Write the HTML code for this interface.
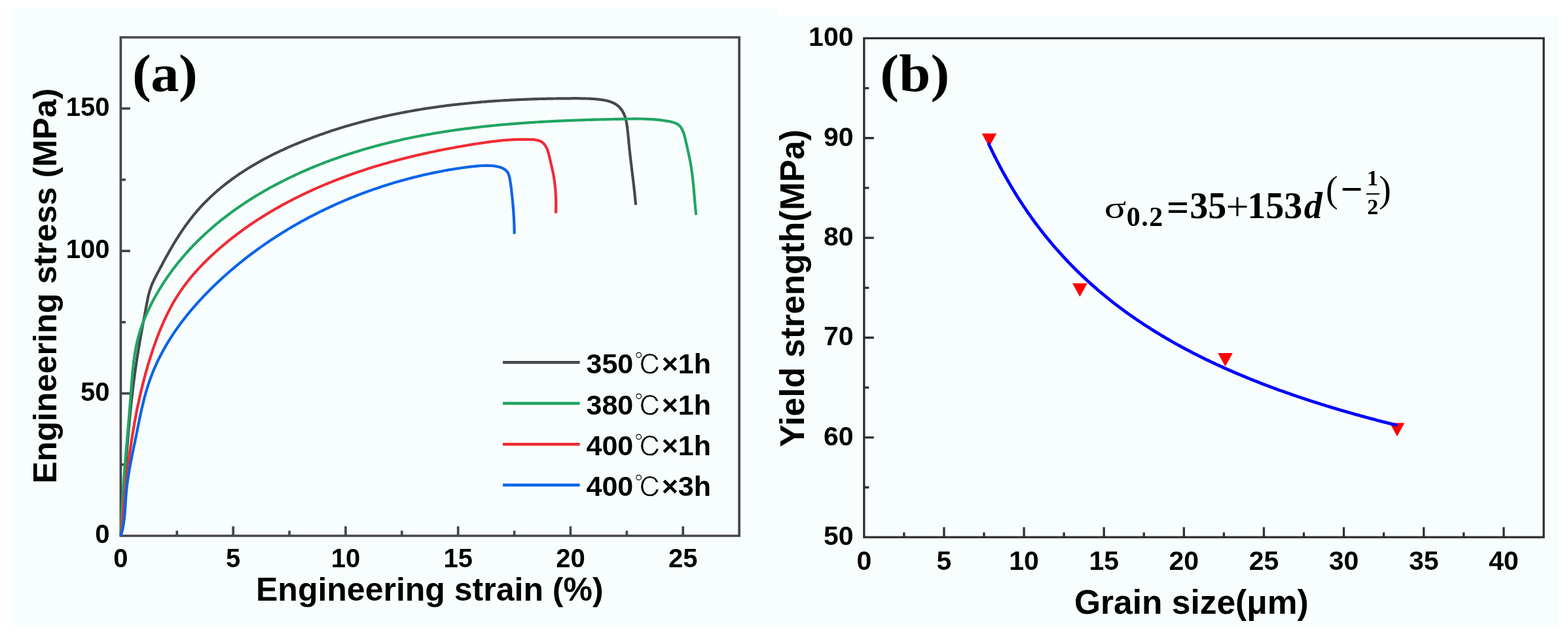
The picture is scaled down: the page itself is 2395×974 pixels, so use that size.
<!DOCTYPE html><html><head><meta charset="utf-8"><title>Figure</title><style>html,body{margin:0;padding:0;background:#fff;}svg{display:block}</style></head><body>
<svg width="2395" height="974" viewBox="0 0 2395 974">
<rect x="0" y="0" width="2395" height="974" fill="#ffffff"/>
<rect x="19" y="11" width="1169" height="945" fill="#f8fefe"/>
<rect x="1188" y="23" width="1192" height="933" fill="#f8fefe"/>
<g fill="none" stroke="#46464a" stroke-width="3.7">
<path d="M184.4 57 H1129.1 V818 H184.4 Z" stroke-linejoin="miter"/>
<path d="M356.16 818 v-14.5 M527.93 818 v-14.5 M699.69 818 v-14.5 M871.45 818 v-14.5 M1043.22 818 v-14.5 M270.28 818 v-7.7 M442.05 818 v-7.7 M613.81 818 v-7.7 M785.57 818 v-7.7 M957.34 818 v-7.7 M184.4 600.57 h14.5 M184.4 383.14 h14.5 M184.4 165.71 h14.5 M184.4 709.29 h7.5 M184.4 491.86 h7.5 M184.4 274.43 h7.5"/>
</g>
<g fill="none" stroke-width="4.2" stroke-linejoin="round" stroke-linecap="butt">
<path d="M184.5 818.0 L184.7 815.5 184.9 813.0 185.1 810.5 185.3 808.0 185.4 805.5 185.6 803.0 185.8 800.5 186.0 798.0 186.2 795.5 186.4 793.0 186.5 790.5 186.7 788.0 186.9 785.5 187.1 783.0 187.2 780.5 187.4 778.0 187.6 775.5 187.8 773.0 187.9 770.5 188.1 768.0 188.3 765.5 188.5 763.0 188.6 760.5 188.8 758.0 189.0 755.5 189.2 753.0 189.3 750.5 189.5 748.0 189.7 745.5 189.9 743.0 190.0 740.5 190.2 738.0 190.4 735.4 190.6 732.9 190.7 730.4 190.9 727.9 191.1 725.4 191.3 722.9 191.5 720.4 191.6 717.9 191.8 715.4 192.0 712.9 192.2 710.4 192.4 707.9 192.5 705.4 192.7 702.9 192.9 700.4 193.1 697.9 193.3 695.4 193.5 692.9 193.7 690.4 193.9 687.9 194.1 685.4 194.3 682.9 194.5 680.4 194.7 677.9 194.9 675.4 195.1 672.9 195.3 670.4 195.5 667.9 195.7 665.3 195.9 662.8 196.1 660.3 196.4 657.8 196.6 655.3 196.8 652.8 197.0 650.3 197.3 647.8 197.5 645.3 197.7 642.8 198.0 640.4 198.2 637.9 198.4 635.4 198.7 632.9 198.9 630.4 199.2 627.9 199.4 625.4 199.7 622.9 200.0 620.4 200.2 617.9 200.5 615.4 200.8 612.9 201.0 610.4 201.3 607.9 201.6 605.4 201.9 602.9 202.2 600.4 202.5 597.9 202.7 595.5 203.0 593.0 203.3 590.5 203.7 588.0 204.0 585.5 204.3 583.0 204.6 580.5 204.9 578.1 205.3 575.6 205.6 573.1 205.9 570.6 206.3 568.1 206.6 565.6 207.0 563.2 207.3 560.7 207.7 558.2 208.0 555.7 208.4 553.2 208.8 550.8 209.1 548.3 209.5 545.8 209.9 543.3 210.3 540.9 210.7 538.4 211.1 535.9 211.5 533.5 211.9 531.0 212.3 528.5 212.8 526.0 213.2 523.6 213.6 521.1 214.0 518.6 214.5 516.2 214.9 513.7 215.4 511.2 215.8 508.8 216.2 506.3 216.7 503.8 217.1 501.4 217.6 498.9 218.0 496.4 218.5 494.0 218.9 491.5 219.4 489.0 219.9 486.5 220.3 484.1 220.8 481.6 221.2 479.1 221.7 476.7 222.2 474.2 222.6 471.7 223.1 469.2 223.5 466.8 224.0 464.3 224.5 461.8 225.0 459.3 225.5 456.9 226.0 454.4 226.5 452.0 227.1 449.5 227.8 447.1 228.4 444.7 229.2 442.3 230.0 440.0 230.8 437.6 231.7 435.3 232.6 433.0 233.7 430.7 234.7 428.5 235.8 426.2 236.9 424.0 238.1 421.7 239.2 419.5 240.4 417.3 241.6 415.1 242.8 412.9 243.9 410.7 245.1 408.4 246.3 406.2 247.5 404.0 248.6 401.8 249.8 399.6 251.0 397.4 252.2 395.2 253.4 393.0 254.6 390.9 255.9 388.7 257.1 386.5 258.3 384.3 259.6 382.1 260.8 380.0 262.1 377.8 263.3 375.6 264.6 373.5 265.9 371.3 267.2 369.2 268.5 367.0 269.9 364.9 271.2 362.8 272.5 360.6 273.9 358.5 275.3 356.4 276.7 354.3 278.1 352.2 279.5 350.1 280.9 348.1 282.4 346.0 283.8 343.9 285.3 341.9 286.8 339.9 288.3 337.9 289.8 335.9 291.4 333.9 292.9 331.9 294.5 330.0 296.0 328.0 297.6 326.1 299.3 324.2 300.9 322.3 302.5 320.4 304.2 318.5 305.8 316.7 307.5 314.8 309.2 313.0 311.0 311.2 312.7 309.4 314.4 307.7 316.2 305.9 318.0 304.2 319.7 302.4 321.5 300.7 323.4 299.0 325.2 297.3 327.0 295.7 328.9 294.0 330.8 292.4 332.6 290.7 334.5 289.1 336.4 287.5 338.3 285.9 340.3 284.4 342.2 282.8 344.2 281.3 346.1 279.7 348.1 278.2 350.1 276.7 352.1 275.2 354.1 273.7 356.1 272.3 358.2 270.8 360.2 269.4 362.2 268.0 364.3 266.5 366.4 265.1 368.5 263.8 370.6 262.4 372.7 261.0 374.8 259.7 376.9 258.3 379.0 257.0 381.1 255.7 383.3 254.4 385.4 253.1 387.6 251.8 389.8 250.6 392.0 249.3 394.1 248.1 396.3 246.8 398.5 245.6 400.7 244.4 403.0 243.2 405.2 242.0 407.4 240.8 409.7 239.7 411.9 238.5 414.1 237.4 416.4 236.2 418.7 235.1 420.9 234.0 423.2 232.9 425.5 231.8 427.8 230.7 430.1 229.6 432.4 228.6 434.7 227.5 437.0 226.5 439.3 225.4 441.6 224.4 443.9 223.4 446.2 222.4 448.6 221.4 450.9 220.4 453.2 219.5 455.6 218.5 457.9 217.5 460.3 216.6 462.6 215.6 464.9 214.7 467.3 213.8 469.7 212.9 472.0 212.0 474.4 211.1 476.7 210.2 479.1 209.3 481.5 208.4 483.8 207.6 486.2 206.7 488.6 205.8 491.0 205.0 493.3 204.2 495.7 203.4 498.1 202.5 500.5 201.7 502.9 200.9 505.2 200.1 507.6 199.3 510.0 198.6 512.4 197.8 514.8 197.0 517.2 196.3 519.6 195.5 522.0 194.8 524.4 194.1 526.8 193.3 529.2 192.6 531.6 191.9 534.0 191.2 536.4 190.5 538.8 189.8 541.2 189.2 543.6 188.5 546.1 187.8 548.5 187.2 550.9 186.5 553.3 185.9 555.7 185.2 558.2 184.6 560.6 184.0 563.0 183.4 565.4 182.8 567.9 182.2 570.3 181.6 572.7 181.0 575.2 180.4 577.6 179.8 580.0 179.3 582.5 178.7 584.9 178.1 587.3 177.6 589.8 177.1 592.2 176.5 594.7 176.0 597.1 175.5 599.6 175.0 602.0 174.5 604.5 174.0 606.9 173.5 609.4 173.0 611.8 172.5 614.3 172.0 616.7 171.6 619.2 171.1 621.6 170.6 624.1 170.2 626.6 169.7 629.0 169.3 631.5 168.9 633.9 168.4 636.4 168.0 638.9 167.6 641.3 167.2 643.8 166.8 646.3 166.4 648.8 166.0 651.2 165.6 653.7 165.2 656.2 164.9 658.6 164.5 661.1 164.1 663.6 163.8 666.1 163.4 668.6 163.1 671.0 162.7 673.5 162.4 676.0 162.1 678.5 161.8 681.0 161.4 683.4 161.1 685.9 160.8 688.4 160.5 690.9 160.2 693.4 159.9 695.9 159.6 698.4 159.4 700.8 159.1 703.3 158.8 705.8 158.5 708.3 158.3 710.8 158.0 713.3 157.8 715.8 157.5 718.3 157.3 720.8 157.0 723.3 156.8 725.8 156.6 728.3 156.4 730.8 156.1 733.3 155.9 735.8 155.7 738.3 155.5 740.8 155.3 743.3 155.1 745.8 154.9 748.3 154.7 750.8 154.6 753.3 154.4 755.8 154.2 758.3 154.0 760.8 153.9 763.3 153.7 765.8 153.5 768.3 153.4 770.8 153.2 773.3 153.1 775.8 153.0 778.3 152.8 780.8 152.7 783.3 152.6 785.8 152.4 788.4 152.3 790.9 152.2 793.4 152.1 795.9 152.0 798.4 151.9 800.9 151.8 803.4 151.7 805.9 151.6 808.4 151.5 810.9 151.4 813.4 151.3 816.0 151.2 818.5 151.2 821.0 151.1 823.5 151.0 826.0 150.9 828.5 150.9 831.0 150.8 833.5 150.8 836.0 150.7 838.6 150.6 841.1 150.6 843.6 150.6 846.1 150.5 848.6 150.5 851.1 150.4 853.6 150.4 856.1 150.4 858.6 150.3 861.1 150.3 863.7 150.3 866.2 150.3 868.7 150.3 871.2 150.3 873.7 150.2 876.2 150.2 878.7 150.2 881.2 150.2 883.7 150.2 886.3 150.3 888.8 150.3 891.3 150.3 893.8 150.4 896.3 150.5 898.8 150.6 901.4 150.7 903.9 150.9 906.4 151.0 909.0 151.2 911.5 151.5 914.1 151.7 916.6 152.0 919.2 152.4 921.7 152.8 924.3 153.2 926.8 153.8 929.2 154.4 931.6 155.1 933.9 155.9 936.2 156.8 938.4 157.9 940.4 159.1 942.4 160.4 944.2 161.9 946.0 163.5 947.6 165.3 949.1 167.1 950.4 169.1 951.6 171.2 952.7 173.3 953.7 175.6 954.6 177.9 955.3 180.3 956.0 182.8 956.6 185.3 957.1 187.8 957.5 190.3 957.9 192.9 958.2 195.5 958.5 198.0 958.8 200.6 959.1 203.2 959.3 205.7 959.6 208.2 959.8 210.8 960.1 213.3 960.3 215.8 960.5 218.3 960.8 220.7 961.0 223.2 961.3 225.7 961.5 228.2 961.8 230.7 962.1 233.1 962.3 235.6 962.6 238.1 962.9 240.6 963.2 243.1 963.5 245.5 963.8 248.0 964.1 250.5 964.4 253.0 964.7 255.5 965.0 257.9 965.3 260.4 965.6 262.9 965.9 265.4 966.2 267.9 966.5 270.4 966.8 272.8 967.1 275.3 967.4 277.8 967.7 280.3 968.0 282.8 968.3 285.3 968.5 287.8 968.8 290.3 969.1 292.8 969.4 295.3 969.6 297.8 969.9 300.3 970.1 302.8 970.4 305.3 970.6 307.8 970.9 310.3 971.1 312.8" stroke="#46484c"/>
<path d="M184.8 818.0 L184.8 815.5 184.9 813.0 185.0 810.5 185.0 808.0 185.1 805.5 185.2 803.0 185.3 800.5 185.4 798.0 185.5 795.5 185.6 793.0 185.7 790.5 185.8 788.0 185.9 785.5 186.1 783.0 186.2 780.5 186.3 778.0 186.4 775.5 186.6 773.0 186.7 770.5 186.9 768.0 187.0 765.5 187.1 763.0 187.3 760.5 187.4 758.0 187.6 755.5 187.8 753.0 187.9 750.5 188.1 748.0 188.3 745.5 188.4 743.0 188.6 740.5 188.8 738.0 189.0 735.5 189.2 733.0 189.3 730.5 189.5 728.0 189.7 725.5 189.9 723.0 190.1 720.5 190.3 718.0 190.5 715.5 190.7 713.0 190.9 710.5 191.1 708.0 191.3 705.5 191.5 703.0 191.7 700.5 191.9 698.0 192.1 695.5 192.3 693.0 192.5 690.5 192.7 688.0 192.9 685.5 193.1 683.0 193.4 680.5 193.6 678.0 193.8 675.5 194.0 673.0 194.2 670.5 194.4 668.0 194.6 665.5 194.8 663.0 195.1 660.5 195.3 658.0 195.5 655.5 195.7 653.0 195.9 650.5 196.1 648.0 196.3 645.5 196.5 643.0 196.7 640.5 197.0 638.0 197.2 635.5 197.4 633.0 197.6 630.5 197.8 628.0 198.0 625.5 198.2 623.0 198.4 620.5 198.6 618.0 198.8 615.5 199.0 613.1 199.2 610.6 199.4 608.1 199.5 605.6 199.7 603.1 199.9 600.6 200.1 598.1 200.3 595.6 200.5 593.1 200.6 590.6 200.8 588.1 201.0 585.7 201.2 583.2 201.4 580.7 201.6 578.2 201.8 575.7 202.0 573.2 202.2 570.8 202.5 568.3 202.7 565.8 202.9 563.3 203.2 560.9 203.5 558.4 203.7 555.9 204.0 553.5 204.3 551.0 204.7 548.5 205.0 546.1 205.4 543.6 205.7 541.2 206.1 538.7 206.6 536.3 207.0 533.8 207.4 531.4 207.9 528.9 208.4 526.5 209.0 524.1 209.5 521.7 210.1 519.2 210.7 516.8 211.3 514.4 212.0 512.0 212.7 509.6 213.4 507.2 214.1 504.8 214.9 502.4 215.7 500.0 216.5 497.6 217.4 495.2 218.3 492.9 219.2 490.5 220.1 488.2 221.1 485.8 222.1 483.5 223.1 481.1 224.1 478.8 225.1 476.5 226.2 474.2 227.3 471.9 228.4 469.6 229.5 467.3 230.6 465.0 231.8 462.8 233.0 460.5 234.1 458.3 235.3 456.1 236.6 453.9 237.8 451.6 239.0 449.5 240.3 447.3 241.6 445.1 242.8 442.9 244.1 440.8 245.5 438.7 246.8 436.5 248.1 434.4 249.5 432.3 250.8 430.2 252.2 428.1 253.6 426.1 255.0 424.0 256.4 421.9 257.9 419.9 259.3 417.9 260.8 415.9 262.3 413.8 263.7 411.8 265.2 409.9 266.7 407.9 268.3 405.9 269.8 404.0 271.3 402.0 272.9 400.1 274.5 398.2 276.1 396.3 277.6 394.4 279.3 392.5 280.9 390.6 282.5 388.7 284.1 386.9 285.8 385.0 287.5 383.2 289.1 381.3 290.8 379.5 292.5 377.7 294.2 375.9 295.9 374.1 297.7 372.4 299.4 370.6 301.2 368.8 302.9 367.1 304.7 365.4 306.5 363.6 308.3 361.9 310.1 360.2 311.9 358.5 313.7 356.8 315.5 355.2 317.4 353.5 319.2 351.8 321.1 350.2 322.9 348.6 324.8 346.9 326.7 345.3 328.6 343.7 330.5 342.1 332.4 340.5 334.4 339.0 336.3 337.4 338.2 335.8 340.2 334.3 342.2 332.8 344.1 331.2 346.1 329.7 348.1 328.2 350.1 326.7 352.1 325.2 354.1 323.8 356.1 322.3 358.1 320.8 360.2 319.4 362.2 317.9 364.3 316.5 366.3 315.1 368.4 313.7 370.5 312.3 372.6 310.9 374.6 309.5 376.7 308.1 378.8 306.8 380.9 305.4 383.1 304.1 385.2 302.7 387.3 301.4 389.4 300.1 391.6 298.8 393.7 297.5 395.9 296.2 398.1 294.9 400.2 293.7 402.4 292.4 404.6 291.1 406.8 289.9 409.0 288.7 411.1 287.4 413.4 286.2 415.6 285.0 417.8 283.8 420.0 282.6 422.2 281.5 424.4 280.3 426.7 279.1 428.9 278.0 431.2 276.8 433.4 275.7 435.7 274.6 437.9 273.5 440.2 272.3 442.5 271.2 444.7 270.2 447.0 269.1 449.3 268.0 451.6 266.9 453.9 265.9 456.2 264.8 458.4 263.8 460.7 262.8 463.1 261.7 465.4 260.7 467.7 259.7 470.0 258.7 472.3 257.7 474.6 256.8 476.9 255.8 479.3 254.8 481.6 253.9 483.9 252.9 486.3 252.0 488.6 251.1 491.0 250.1 493.3 249.2 495.6 248.3 498.0 247.4 500.3 246.5 502.7 245.7 505.1 244.8 507.4 243.9 509.8 243.1 512.1 242.2 514.5 241.4 516.9 240.6 519.2 239.7 521.6 238.9 524.0 238.1 526.3 237.3 528.7 236.5 531.1 235.7 533.5 235.0 535.9 234.2 538.3 233.4 540.6 232.7 543.0 231.9 545.4 231.2 547.8 230.5 550.2 229.7 552.6 229.0 555.0 228.3 557.4 227.6 559.8 226.9 562.2 226.2 564.6 225.6 567.0 224.9 569.4 224.2 571.8 223.6 574.2 222.9 576.7 222.3 579.1 221.6 581.5 221.0 583.9 220.4 586.3 219.8 588.7 219.2 591.2 218.5 593.6 218.0 596.0 217.4 598.4 216.8 600.9 216.2 603.3 215.6 605.7 215.1 608.2 214.5 610.6 214.0 613.1 213.4 615.5 212.9 617.9 212.3 620.4 211.8 622.8 211.3 625.3 210.8 627.7 210.3 630.2 209.8 632.6 209.3 635.1 208.8 637.5 208.3 640.0 207.8 642.4 207.4 644.9 206.9 647.3 206.4 649.8 206.0 652.2 205.5 654.7 205.1 657.2 204.7 659.6 204.2 662.1 203.8 664.5 203.4 667.0 203.0 669.5 202.6 671.9 202.2 674.4 201.8 676.9 201.4 679.4 201.0 681.8 200.6 684.3 200.2 686.8 199.8 689.3 199.5 691.7 199.1 694.2 198.8 696.7 198.4 699.2 198.1 701.6 197.7 704.1 197.4 706.6 197.1 709.1 196.7 711.6 196.4 714.1 196.1 716.5 195.8 719.0 195.5 721.5 195.2 724.0 194.9 726.5 194.6 729.0 194.3 731.5 194.0 734.0 193.7 736.5 193.4 739.0 193.2 741.4 192.9 743.9 192.6 746.4 192.4 748.9 192.1 751.4 191.9 753.9 191.6 756.4 191.4 758.9 191.1 761.4 190.9 763.9 190.7 766.4 190.4 768.9 190.2 771.4 190.0 773.9 189.8 776.4 189.6 778.9 189.4 781.4 189.2 783.9 189.0 786.4 188.8 788.9 188.6 791.4 188.4 793.9 188.2 796.4 188.0 798.9 187.8 801.4 187.7 803.9 187.5 806.4 187.3 808.9 187.1 811.5 187.0 814.0 186.8 816.5 186.7 819.0 186.5 821.5 186.4 824.0 186.2 826.5 186.1 829.0 185.9 831.5 185.8 834.0 185.6 836.5 185.5 839.0 185.4 841.5 185.3 844.0 185.1 846.5 185.0 849.1 184.9 851.6 184.8 854.1 184.6 856.6 184.5 859.1 184.4 861.6 184.3 864.1 184.2 866.6 184.1 869.1 184.0 871.6 183.9 874.1 183.8 876.6 183.7 879.1 183.6 881.6 183.5 884.1 183.4 886.7 183.4 889.2 183.3 891.7 183.2 894.2 183.1 896.7 183.0 899.2 182.9 901.7 182.9 904.2 182.8 906.7 182.7 909.2 182.7 911.7 182.6 914.2 182.5 916.7 182.5 919.2 182.4 921.7 182.3 924.2 182.3 926.7 182.2 929.2 182.1 931.7 182.1 934.2 182.0 936.7 182.0 939.2 181.9 941.7 181.9 944.2 181.8 946.7 181.8 949.2 181.7 951.7 181.7 954.2 181.6 956.7 181.6 959.1 181.5 961.6 181.5 964.1 181.5 966.6 181.4 969.1 181.4 971.6 181.4 974.1 181.4 976.6 181.5 979.1 181.5 981.6 181.5 984.1 181.6 986.6 181.7 989.1 181.8 991.6 181.9 994.1 182.1 996.6 182.2 999.1 182.4 1001.6 182.6 1004.1 182.8 1006.7 183.1 1009.2 183.4 1011.7 183.7 1014.2 184.1 1016.7 184.5 1019.3 184.9 1021.8 185.3 1024.3 185.8 1026.8 186.4 1029.2 187.1 1031.5 187.9 1033.7 188.9 1035.6 190.1 1037.4 191.5 1039.0 193.1 1040.3 195.0 1041.6 197.0 1042.6 199.1 1043.6 201.4 1044.4 203.8 1045.2 206.2 1045.9 208.7 1046.5 211.3 1047.1 213.9 1047.7 216.4 1048.3 219.0 1048.9 221.5 1049.4 224.0 1050.0 226.4 1050.5 228.9 1051.1 231.4 1051.6 233.8 1052.2 236.2 1052.7 238.6 1053.2 241.1 1053.7 243.5 1054.1 245.9 1054.6 248.3 1055.0 250.7 1055.4 253.2 1055.8 255.6 1056.2 258.1 1056.5 260.5 1056.9 263.0 1057.2 265.5 1057.5 268.0 1057.8 270.4 1058.1 272.9 1058.4 275.4 1058.6 277.9 1058.9 280.4 1059.1 282.9 1059.4 285.5 1059.6 288.0 1059.8 290.5 1060.0 293.0 1060.2 295.5 1060.5 298.0 1060.7 300.5 1060.9 303.0 1061.1 305.5 1061.3 308.0 1061.5 310.5 1061.8 313.0 1062.0 315.5 1062.2 318.0 1062.5 320.5 1062.8 323.0 1063.0 325.4 1063.3 327.9" stroke="#21a563"/>
<path d="M185.2 818.0 L185.4 815.5 185.6 813.1 185.8 810.6 186.0 808.1 186.2 805.6 186.4 803.1 186.6 800.6 186.8 798.1 187.1 795.6 187.3 793.1 187.5 790.6 187.7 788.1 187.9 785.6 188.1 783.1 188.4 780.6 188.6 778.1 188.8 775.6 189.1 773.1 189.3 770.6 189.5 768.1 189.8 765.6 190.0 763.2 190.2 760.7 190.5 758.2 190.7 755.7 191.0 753.2 191.2 750.7 191.5 748.2 191.7 745.7 192.0 743.2 192.3 740.7 192.5 738.2 192.8 735.7 193.1 733.2 193.3 730.7 193.6 728.2 193.9 725.7 194.2 723.2 194.5 720.7 194.8 718.3 195.1 715.8 195.4 713.3 195.7 710.8 196.0 708.3 196.3 705.8 196.6 703.3 196.9 700.8 197.3 698.4 197.6 695.9 197.9 693.4 198.3 690.9 198.6 688.4 199.0 685.9 199.3 683.5 199.7 681.0 200.1 678.5 200.4 676.0 200.8 673.5 201.2 671.1 201.6 668.6 202.0 666.1 202.4 663.6 202.8 661.2 203.2 658.7 203.6 656.2 204.0 653.8 204.4 651.3 204.9 648.8 205.3 646.4 205.7 643.9 206.2 641.4 206.6 639.0 207.1 636.5 207.6 634.1 208.0 631.6 208.5 629.1 209.0 626.7 209.5 624.2 210.0 621.8 210.5 619.3 211.0 616.9 211.6 614.4 212.1 612.0 212.6 609.6 213.2 607.1 213.7 604.7 214.3 602.2 214.8 599.8 215.4 597.4 216.0 594.9 216.6 592.5 217.2 590.1 217.8 587.6 218.4 585.2 219.0 582.8 219.7 580.4 220.3 578.0 220.9 575.5 221.6 573.1 222.2 570.7 222.9 568.3 223.6 565.9 224.3 563.5 225.0 561.1 225.7 558.7 226.4 556.2 227.1 553.8 227.8 551.4 228.6 549.1 229.3 546.7 230.1 544.3 230.8 541.9 231.6 539.5 232.4 537.1 233.2 534.7 234.0 532.3 234.8 529.9 235.6 527.6 236.5 525.2 237.3 522.8 238.2 520.5 239.0 518.1 239.9 515.7 240.8 513.4 241.7 511.0 242.6 508.7 243.5 506.4 244.5 504.0 245.4 501.7 246.4 499.4 247.4 497.1 248.4 494.8 249.4 492.5 250.4 490.2 251.4 487.9 252.5 485.6 253.6 483.4 254.7 481.1 255.8 478.9 256.9 476.6 258.0 474.4 259.2 472.2 260.3 470.0 261.5 467.8 262.7 465.6 263.9 463.4 265.2 461.2 266.4 459.1 267.7 456.9 269.0 454.8 270.3 452.7 271.7 450.6 273.0 448.5 274.4 446.4 275.8 444.4 277.2 442.3 278.7 440.3 280.1 438.2 281.6 436.2 283.1 434.2 284.6 432.2 286.1 430.3 287.7 428.3 289.2 426.4 290.8 424.4 292.4 422.5 294.0 420.6 295.6 418.7 297.3 416.8 298.9 414.9 300.6 413.1 302.3 411.2 304.0 409.4 305.7 407.6 307.5 405.7 309.2 403.9 310.9 402.1 312.7 400.4 314.5 398.6 316.3 396.8 318.1 395.1 319.9 393.3 321.7 391.6 323.5 389.9 325.4 388.2 327.2 386.5 329.1 384.8 331.0 383.1 332.8 381.5 334.7 379.8 336.6 378.2 338.5 376.5 340.4 374.9 342.3 373.3 344.3 371.7 346.2 370.1 348.1 368.5 350.1 366.9 352.0 365.4 354.0 363.8 356.0 362.3 358.0 360.7 360.0 359.2 361.9 357.7 364.0 356.2 366.0 354.7 368.0 353.2 370.0 351.7 372.0 350.2 374.1 348.8 376.1 347.3 378.2 345.9 380.2 344.5 382.3 343.0 384.4 341.6 386.4 340.2 388.5 338.8 390.6 337.5 392.7 336.1 394.8 334.7 396.9 333.4 399.1 332.0 401.2 330.7 403.3 329.4 405.4 328.0 407.6 326.7 409.7 325.4 411.9 324.1 414.0 322.9 416.2 321.6 418.4 320.3 420.5 319.1 422.7 317.8 424.9 316.6 427.1 315.3 429.3 314.1 431.5 312.9 433.7 311.7 435.9 310.5 438.1 309.3 440.3 308.2 442.6 307.0 444.8 305.8 447.0 304.7 449.3 303.5 451.5 302.4 453.8 301.3 456.0 300.2 458.3 299.0 460.5 297.9 462.8 296.8 465.1 295.8 467.3 294.7 469.6 293.6 471.9 292.6 474.2 291.5 476.5 290.5 478.8 289.4 481.0 288.4 483.3 287.4 485.6 286.4 488.0 285.4 490.3 284.4 492.6 283.4 494.9 282.4 497.2 281.4 499.5 280.5 501.8 279.5 504.2 278.6 506.5 277.6 508.8 276.7 511.2 275.8 513.5 274.9 515.8 274.0 518.2 273.1 520.5 272.2 522.9 271.3 525.2 270.4 527.6 269.5 529.9 268.7 532.3 267.8 534.6 267.0 537.0 266.1 539.3 265.3 541.7 264.5 544.1 263.6 546.4 262.8 548.8 262.0 551.2 261.2 553.5 260.4 555.9 259.6 558.3 258.9 560.7 258.1 563.1 257.3 565.4 256.6 567.8 255.8 570.2 255.1 572.6 254.3 575.0 253.6 577.4 252.9 579.8 252.2 582.2 251.5 584.6 250.8 587.0 250.1 589.4 249.4 591.8 248.7 594.2 248.0 596.6 247.3 599.0 246.7 601.4 246.0 603.8 245.4 606.2 244.7 608.6 244.1 611.0 243.4 613.4 242.8 615.9 242.2 618.3 241.6 620.7 241.0 623.1 240.4 625.6 239.8 628.0 239.2 630.4 238.6 632.8 238.0 635.3 237.4 637.7 236.9 640.1 236.3 642.6 235.7 645.0 235.2 647.5 234.6 649.9 234.1 652.3 233.6 654.8 233.0 657.2 232.5 659.7 232.0 662.1 231.5 664.6 231.0 667.0 230.4 669.5 229.9 671.9 229.4 674.4 229.0 676.8 228.5 679.3 228.0 681.8 227.5 684.2 227.0 686.7 226.6 689.1 226.1 691.6 225.7 694.1 225.2 696.5 224.8 699.0 224.3 701.5 223.9 704.0 223.5 706.4 223.0 708.9 222.6 711.4 222.2 713.9 221.8 716.3 221.3 718.8 220.9 721.3 220.5 723.8 220.1 726.2 219.7 728.7 219.4 731.2 219.0 733.7 218.6 736.2 218.2 738.7 217.9 741.2 217.5 743.7 217.1 746.1 216.8 748.6 216.5 751.1 216.2 753.6 215.8 756.1 215.5 758.6 215.3 761.1 215.0 763.6 214.7 766.1 214.5 768.7 214.2 771.2 214.0 773.7 213.8 776.2 213.6 778.7 213.5 781.2 213.3 783.8 213.2 786.3 213.1 788.8 213.0 791.3 212.9 793.9 212.8 796.4 212.8 798.9 212.8 801.5 212.8 804.0 212.8 806.6 212.9 809.1 213.0 811.7 213.1 814.2 213.2 816.7 213.4 819.1 213.8 821.5 214.3 823.7 214.9 825.8 215.8 827.8 217.0 829.6 218.4 831.2 220.0 832.6 221.8 833.9 223.9 835.0 226.1 836.0 228.4 836.9 230.8 837.7 233.3 838.4 235.9 839.0 238.5 839.6 241.1 840.2 243.7 840.8 246.2 841.4 248.7 841.9 251.2 842.5 253.6 843.1 256.1 843.6 258.5 844.1 260.9 844.6 263.3 845.1 265.7 845.6 268.1 846.0 270.5 846.4 273.0 846.7 275.4 847.1 277.9 847.4 280.4 847.7 282.8 847.9 285.3 848.2 287.8 848.4 290.3 848.6 292.9 848.7 295.4 848.9 297.9 849.0 300.4 849.1 302.9 849.1 305.5 849.2 308.0 849.2 310.5 849.2 313.0 849.2 315.5 849.2 318.0 849.1 320.5 849.1 323.0 849.0 325.5" stroke="#ee2c34"/>
<path d="M184.5 817.9 L185.3 815.6 185.9 813.2 186.6 810.8 187.1 808.4 187.6 806.0 188.1 803.5 188.5 801.0 188.9 798.6 189.3 796.1 189.6 793.6 189.9 791.1 190.2 788.6 190.4 786.0 190.6 783.5 190.8 781.0 191.0 778.4 191.2 775.9 191.3 773.3 191.5 770.8 191.7 768.3 191.8 765.7 192.0 763.2 192.2 760.6 192.4 758.1 192.5 755.6 192.8 753.0 193.0 750.5 193.2 748.0 193.5 745.5 193.8 743.0 194.1 740.5 194.4 738.1 194.7 735.6 195.1 733.1 195.4 730.6 195.8 728.2 196.2 725.7 196.6 723.3 197.0 720.8 197.4 718.4 197.8 715.9 198.3 713.5 198.7 711.1 199.2 708.6 199.6 706.2 200.1 703.7 200.6 701.3 201.1 698.9 201.5 696.4 202.0 694.0 202.5 691.6 203.0 689.1 203.5 686.7 204.0 684.2 204.5 681.8 205.0 679.4 205.5 676.9 206.1 674.4 206.6 672.0 207.1 669.5 207.6 667.1 208.1 664.6 208.6 662.1 209.1 659.6 209.6 657.2 210.1 654.7 210.6 652.2 211.1 649.7 211.6 647.2 212.1 644.7 212.6 642.2 213.1 639.7 213.6 637.3 214.2 634.8 214.7 632.3 215.2 629.8 215.8 627.3 216.3 624.8 216.9 622.3 217.5 619.9 218.1 617.4 218.7 614.9 219.3 612.4 219.9 610.0 220.5 607.5 221.2 605.1 221.9 602.6 222.5 600.2 223.2 597.8 223.9 595.3 224.7 592.9 225.4 590.5 226.2 588.1 227.0 585.7 227.8 583.3 228.6 581.0 229.4 578.6 230.3 576.2 231.2 573.9 232.1 571.6 233.0 569.2 234.0 566.9 234.9 564.6 235.9 562.3 236.9 560.0 237.9 557.8 238.9 555.5 240.0 553.2 241.1 551.0 242.1 548.7 243.3 546.5 244.4 544.3 245.5 542.1 246.7 539.9 247.8 537.7 249.0 535.5 250.2 533.3 251.5 531.1 252.7 529.0 254.0 526.8 255.2 524.7 256.5 522.6 257.8 520.4 259.1 518.3 260.5 516.2 261.8 514.1 263.2 512.0 264.5 509.9 265.9 507.9 267.3 505.8 268.8 503.8 270.2 501.7 271.6 499.7 273.1 497.7 274.6 495.6 276.1 493.6 277.6 491.6 279.1 489.6 280.6 487.7 282.1 485.7 283.7 483.7 285.2 481.8 286.8 479.8 288.4 477.9 290.0 475.9 291.6 474.0 293.2 472.1 294.9 470.2 296.5 468.3 298.2 466.4 299.8 464.5 301.5 462.7 303.2 460.8 304.9 458.9 306.6 457.1 308.3 455.3 310.0 453.4 311.7 451.6 313.5 449.8 315.2 448.0 317.0 446.2 318.8 444.4 320.5 442.6 322.3 440.8 324.1 439.1 325.9 437.3 327.7 435.6 329.5 433.8 331.4 432.1 333.2 430.4 335.0 428.6 336.9 426.9 338.7 425.2 340.6 423.5 342.5 421.8 344.3 420.2 346.2 418.5 348.1 416.8 350.0 415.2 351.9 413.5 353.8 411.9 355.7 410.3 357.7 408.6 359.6 407.0 361.5 405.4 363.5 403.8 365.4 402.2 367.4 400.6 369.3 399.1 371.3 397.5 373.3 395.9 375.2 394.4 377.2 392.8 379.2 391.3 381.2 389.8 383.2 388.3 385.2 386.8 387.2 385.3 389.3 383.8 391.3 382.3 393.3 380.8 395.4 379.3 397.4 377.9 399.5 376.4 401.5 375.0 403.6 373.5 405.7 372.1 407.7 370.7 409.8 369.2 411.9 367.8 414.0 366.4 416.1 365.1 418.2 363.7 420.3 362.3 422.4 360.9 424.5 359.6 426.7 358.2 428.8 356.9 430.9 355.5 433.1 354.2 435.2 352.9 437.4 351.6 439.5 350.3 441.7 349.0 443.8 347.7 446.0 346.4 448.2 345.2 450.4 343.9 452.5 342.7 454.7 341.4 456.9 340.2 459.1 338.9 461.3 337.7 463.5 336.5 465.7 335.3 468.0 334.1 470.2 332.9 472.4 331.7 474.6 330.6 476.9 329.4 479.1 328.3 481.3 327.1 483.6 326.0 485.8 324.8 488.1 323.7 490.3 322.6 492.6 321.5 494.9 320.4 497.1 319.3 499.4 318.2 501.7 317.2 504.0 316.1 506.3 315.0 508.5 314.0 510.8 312.9 513.1 311.9 515.4 310.9 517.7 309.9 520.0 308.9 522.3 307.9 524.7 306.9 527.0 305.9 529.3 304.9 531.6 304.0 533.9 303.0 536.3 302.0 538.6 301.1 540.9 300.2 543.3 299.2 545.6 298.3 548.0 297.4 550.3 296.5 552.7 295.6 555.0 294.7 557.4 293.9 559.7 293.0 562.1 292.1 564.5 291.3 566.8 290.5 569.2 289.6 571.6 288.8 573.9 288.0 576.3 287.2 578.7 286.4 581.1 285.6 583.5 284.8 585.8 284.0 588.2 283.2 590.6 282.5 593.0 281.7 595.4 281.0 597.8 280.3 600.2 279.5 602.6 278.8 605.0 278.1 607.4 277.4 609.8 276.7 612.2 276.0 614.6 275.4 617.0 274.7 619.5 274.0 621.9 273.4 624.3 272.7 626.7 272.1 629.1 271.5 631.5 270.9 634.0 270.3 636.4 269.7 638.8 269.1 641.2 268.5 643.7 267.9 646.1 267.3 648.5 266.8 651.0 266.2 653.4 265.7 655.8 265.2 658.3 264.6 660.7 264.1 663.1 263.6 665.6 263.1 668.0 262.6 670.4 262.2 672.9 261.7 675.3 261.2 677.8 260.8 680.2 260.3 682.7 259.9 685.1 259.4 687.5 259.0 690.0 258.6 692.5 258.2 694.9 257.8 697.4 257.4 699.8 257.1 702.3 256.7 704.8 256.3 707.3 256.0 709.8 255.7 712.3 255.3 714.8 255.0 717.3 254.7 719.8 254.4 722.3 254.2 724.9 253.9 727.4 253.6 730.0 253.4 732.5 253.2 735.1 253.0 737.7 252.9 740.2 252.8 742.8 252.7 745.4 252.8 747.9 252.8 750.5 253.0 753.0 253.2 755.5 253.5 758.0 254.0 760.5 254.5 763.0 255.1 765.4 255.8 767.7 256.8 769.8 257.9 771.8 259.2 773.5 260.7 775.0 262.6 776.2 264.6 777.1 266.9 777.9 269.4 778.5 272.0 779.0 274.6 779.4 277.2 779.8 279.8 780.2 282.4 780.5 284.9 780.9 287.4 781.2 289.9 781.4 292.4 781.7 294.8 782.0 297.2 782.2 299.7 782.5 302.1 782.7 304.6 782.9 307.1 783.2 309.5 783.4 312.0 783.6 314.5 783.8 317.0 784.0 319.6 784.2 322.1 784.4 324.6 784.6 327.2 784.7 329.7 784.9 332.2 785.0 334.8 785.1 337.3 785.3 339.8 785.4 342.3 785.4 344.8 785.5 347.4 785.6 349.9 785.6 352.3 785.6 354.8 785.6 357.3" stroke="#0a64e8"/>
</g>
<g font-family='"Liberation Sans", sans-serif' font-weight="700" font-size="40" fill="#000">
<text x="184.4" y="866" text-anchor="middle">0</text>
<text x="356.16" y="866" text-anchor="middle">5</text>
<text x="527.93" y="866" text-anchor="middle">10</text>
<text x="699.69" y="866" text-anchor="middle">15</text>
<text x="871.45" y="866" text-anchor="middle">20</text>
<text x="1043.22" y="866" text-anchor="middle">25</text>
<text x="167.5" y="829" text-anchor="end">0</text>
<text x="167.5" y="611.57" text-anchor="end">50</text>
<text x="167.5" y="394.14" text-anchor="end">100</text>
<text x="167.5" y="176.71" text-anchor="end">150</text>
</g>
<text x="391" y="917" font-family='"Liberation Sans", sans-serif' font-weight="700" font-size="50">Engineering strain (%)</text>
<text transform="translate(86 738) rotate(-90)" font-family='"Liberation Sans", sans-serif' font-weight="700" font-size="50" textLength="603.2" lengthAdjust="spacing">Engineering stress (MPa)</text>
<text transform="translate(202 138.8) scale(1.08 1)" font-family='"Liberation Serif", serif' font-weight="700" font-size="80" letter-spacing="-0.4">(a)</text>
<path d="M768.1 553.3 H885.6" stroke="#46484c" stroke-width="4.5" fill="none"/>
<text x="895.5" y="570.3" font-family='"Liberation Sans", sans-serif' font-weight="700" font-size="43">350</text>
<text x="968.8" y="572.1" font-family='"Liberation Sans", "IPAGothic", sans-serif' font-size="42" stroke="#f8fefe" stroke-width="0.6">℃</text>
<text x="1010.7" y="570.3" font-family='"Liberation Sans", sans-serif' font-weight="700" font-size="43">×1h</text>
<path d="M768.1 615.7 H885.6" stroke="#21a563" stroke-width="4.5" fill="none"/>
<text x="895.5" y="632.7" font-family='"Liberation Sans", sans-serif' font-weight="700" font-size="43">380</text>
<text x="968.8" y="634.5" font-family='"Liberation Sans", "IPAGothic", sans-serif' font-size="42" stroke="#f8fefe" stroke-width="0.6">℃</text>
<text x="1010.7" y="632.7" font-family='"Liberation Sans", sans-serif' font-weight="700" font-size="43">×1h</text>
<path d="M768.1 678.3 H885.6" stroke="#ee2c34" stroke-width="4.5" fill="none"/>
<text x="895.5" y="695.3" font-family='"Liberation Sans", sans-serif' font-weight="700" font-size="43">400</text>
<text x="968.8" y="697.1" font-family='"Liberation Sans", "IPAGothic", sans-serif' font-size="42" stroke="#f8fefe" stroke-width="0.6">℃</text>
<text x="1010.7" y="695.3" font-family='"Liberation Sans", sans-serif' font-weight="700" font-size="43">×1h</text>
<path d="M768.1 740.4 H885.6" stroke="#0a64e8" stroke-width="4.5" fill="none"/>
<text x="895.5" y="757.4" font-family='"Liberation Sans", sans-serif' font-weight="700" font-size="43">400</text>
<text x="968.8" y="759.2" font-family='"Liberation Sans", "IPAGothic", sans-serif' font-size="42" stroke="#f8fefe" stroke-width="0.6">℃</text>
<text x="1010.7" y="757.4" font-family='"Liberation Sans", sans-serif' font-weight="700" font-size="43">×3h</text>
<g fill="none" stroke="#2e2e31" stroke-width="3.3">
<path d="M1319.8 58.4 H2357.9 V820.2 H1319.8 Z"/>
<path d="M1441.93 820.2 v-15.5 M1564.06 820.2 v-15.5 M1686.19 820.2 v-15.5 M1808.32 820.2 v-15.5 M1930.45 820.2 v-15.5 M2052.58 820.2 v-15.5 M2174.71 820.2 v-15.5 M2296.84 820.2 v-15.5 M1380.86 820.2 v-7.5 M1502.99 820.2 v-7.5 M1625.12 820.2 v-7.5 M1747.25 820.2 v-7.5 M1869.38 820.2 v-7.5 M1991.51 820.2 v-7.5 M2113.64 820.2 v-7.5 M2235.77 820.2 v-7.5 M1319.8 667.84 h15 M1319.8 515.48 h15 M1319.8 363.12 h15 M1319.8 210.76 h15 M1319.8 744.02 h7.5 M1319.8 591.66 h7.5 M1319.8 439.3 h7.5 M1319.8 286.94 h7.5 M1319.8 134.58 h7.5"/>
</g>
<path d="M1499.6 203.7 H1522.2 L1510.9 224.2 Z" fill="#ff0000"/>
<path d="M1638.1 432.4 H1660.7 L1649.4 452.9 Z" fill="#ff0000"/>
<path d="M1860.2 539 H1882.8 L1871.5 559.5 Z" fill="#ff0000"/>
<path d="M2122.7 645.7 H2145.3 L2134 666.2 Z" fill="#ff0000"/>
<path d="M1510.3 220.0 L1512.3 224.2 1514.3 228.4 1516.3 232.5 1518.3 236.6 1520.3 240.5 1522.3 244.5 1524.3 248.3 1526.3 252.2 1528.3 255.9 1530.3 259.7 1532.3 263.3 1534.3 266.9 1536.3 270.5 1538.3 274.0 1540.3 277.5 1542.3 280.9 1544.3 284.3 1546.3 287.7 1548.3 291.0 1550.3 294.2 1552.3 297.5 1554.3 300.7 1556.3 303.8 1558.3 306.9 1560.3 310.0 1562.3 313.0 1564.3 316.0 1566.3 319.0 1568.3 321.9 1570.3 324.8 1572.3 327.6 1574.3 330.5 1576.3 333.3 1578.3 336.0 1580.3 338.8 1582.3 341.5 1584.3 344.1 1586.3 346.8 1588.3 349.4 1590.3 352.0 1592.3 354.5 1594.3 357.1 1596.3 359.6 1598.3 362.1 1600.3 364.5 1602.3 366.9 1604.3 369.3 1606.3 371.7 1608.3 374.1 1610.3 376.4 1612.3 378.7 1614.3 381.0 1616.3 383.2 1618.3 385.5 1620.3 387.7 1622.3 389.9 1624.3 392.1 1626.3 394.2 1628.3 396.4 1630.3 398.5 1632.3 400.6 1634.3 402.6 1636.3 404.7 1638.3 406.7 1640.3 408.7 1642.3 410.7 1644.3 412.7 1646.3 414.7 1648.3 416.6 1650.3 418.6 1652.3 420.5 1654.3 422.4 1656.3 424.2 1658.3 426.1 1660.3 427.9 1662.3 429.8 1664.3 431.6 1666.3 433.4 1668.3 435.2 1670.3 436.9 1672.3 438.7 1674.3 440.4 1676.3 442.1 1678.3 443.9 1680.3 445.5 1682.3 447.2 1684.3 448.9 1686.3 450.5 1688.3 452.2 1690.3 453.8 1692.3 455.4 1694.3 457.0 1696.3 458.6 1698.3 460.2 1700.3 461.8 1702.3 463.3 1704.3 464.8 1706.3 466.4 1708.3 467.9 1710.3 469.4 1712.3 470.9 1714.3 472.4 1716.3 473.8 1718.3 475.3 1720.3 476.8 1722.3 478.2 1724.3 479.6 1726.3 481.0 1728.3 482.4 1730.3 483.8 1732.3 485.2 1734.3 486.6 1736.3 488.0 1738.3 489.3 1740.3 490.7 1742.3 492.0 1744.3 493.3 1746.3 494.7 1748.3 496.0 1750.3 497.3 1752.3 498.6 1754.3 499.8 1756.3 501.1 1758.3 502.4 1760.3 503.6 1762.3 504.9 1764.3 506.1 1766.3 507.4 1768.3 508.6 1770.3 509.8 1772.3 511.0 1774.3 512.2 1776.3 513.4 1778.3 514.6 1780.3 515.8 1782.3 516.9 1784.3 518.1 1786.3 519.2 1788.3 520.4 1790.3 521.5 1792.3 522.7 1794.3 523.8 1796.3 524.9 1798.3 526.0 1800.3 527.1 1802.3 528.2 1804.3 529.3 1806.3 530.4 1808.3 531.5 1810.3 532.5 1812.3 533.6 1814.3 534.6 1816.3 535.7 1818.3 536.7 1820.3 537.8 1822.3 538.8 1824.3 539.8 1826.3 540.9 1828.3 541.9 1830.3 542.9 1832.3 543.9 1834.3 544.9 1836.3 545.9 1838.3 546.8 1840.3 547.8 1842.3 548.8 1844.3 549.8 1846.3 550.7 1848.3 551.7 1850.3 552.6 1852.3 553.6 1854.3 554.5 1856.3 555.5 1858.3 556.4 1860.3 557.3 1862.3 558.2 1864.3 559.1 1866.3 560.0 1868.3 561.0 1870.3 561.9 1872.3 562.7 1874.3 563.6 1876.3 564.5 1878.3 565.4 1880.3 566.3 1882.3 567.1 1884.3 568.0 1886.3 568.9 1888.3 569.7 1890.3 570.6 1892.3 571.4 1894.3 572.3 1896.3 573.1 1898.3 573.9 1900.3 574.8 1902.3 575.6 1904.3 576.4 1906.3 577.2 1908.3 578.0 1910.3 578.9 1912.3 579.7 1914.3 580.5 1916.3 581.3 1918.3 582.0 1920.3 582.8 1922.3 583.6 1924.3 584.4 1926.3 585.2 1928.3 585.9 1930.3 586.7 1932.3 587.5 1934.3 588.2 1936.3 589.0 1938.3 589.8 1940.3 590.5 1942.3 591.3 1944.3 592.0 1946.3 592.7 1948.3 593.5 1950.3 594.2 1952.3 594.9 1954.3 595.7 1956.3 596.4 1958.3 597.1 1960.3 597.8 1962.3 598.5 1964.3 599.2 1966.3 599.9 1968.3 600.6 1970.3 601.3 1972.3 602.0 1974.3 602.7 1976.3 603.4 1978.3 604.1 1980.3 604.8 1982.3 605.5 1984.3 606.1 1986.3 606.8 1988.3 607.5 1990.3 608.1 1992.3 608.8 1994.3 609.5 1996.3 610.1 1998.3 610.8 2000.3 611.4 2002.3 612.1 2004.3 612.7 2006.3 613.4 2008.3 614.0 2010.3 614.6 2012.3 615.3 2014.3 615.9 2016.3 616.5 2018.3 617.2 2020.3 617.8 2022.3 618.4 2024.3 619.0 2026.3 619.7 2028.3 620.3 2030.3 620.9 2032.3 621.5 2034.3 622.1 2036.3 622.7 2038.3 623.3 2040.3 623.9 2042.3 624.5 2044.3 625.1 2046.3 625.7 2048.3 626.3 2050.3 626.8 2052.3 627.4 2054.3 628.0 2056.3 628.6 2058.3 629.2 2060.3 629.7 2062.3 630.3 2064.3 630.9 2066.3 631.4 2068.3 632.0 2070.3 632.6 2072.3 633.1 2074.3 633.7 2076.3 634.2 2078.3 634.8 2080.3 635.3 2082.3 635.9 2084.3 636.4 2086.3 637.0 2088.3 637.5 2090.3 638.1 2092.3 638.6 2094.3 639.1 2096.3 639.7 2098.3 640.2 2100.3 640.7 2102.3 641.3 2104.3 641.8 2106.3 642.3 2108.3 642.8 2110.3 643.3 2112.3 643.9 2114.3 644.4 2116.3 644.9 2118.3 645.4 2120.3 645.9 2122.3 646.4 2124.3 646.9 2126.3 647.4 2128.3 647.9 2130.3 648.4 2132.3 648.9" fill="none" stroke="#0000ff" stroke-width="4.8" stroke-linecap="round" stroke-linejoin="round"/>
<g font-family='"Liberation Sans", sans-serif' font-weight="700" font-size="41" fill="#000">
<text x="1319.8" y="869.5" text-anchor="middle">0</text>
<text x="1441.93" y="869.5" text-anchor="middle">5</text>
<text x="1564.06" y="869.5" text-anchor="middle">10</text>
<text x="1686.19" y="869.5" text-anchor="middle">15</text>
<text x="1808.32" y="869.5" text-anchor="middle">20</text>
<text x="1930.45" y="869.5" text-anchor="middle">25</text>
<text x="2052.58" y="869.5" text-anchor="middle">30</text>
<text x="2174.71" y="869.5" text-anchor="middle">35</text>
<text x="2296.84" y="869.5" text-anchor="middle">40</text>
<text x="1303.5" y="832.2" text-anchor="end">50</text>
<text x="1303.5" y="679.84" text-anchor="end">60</text>
<text x="1303.5" y="527.48" text-anchor="end">70</text>
<text x="1303.5" y="375.12" text-anchor="end">80</text>
<text x="1303.5" y="222.76" text-anchor="end">90</text>
<text x="1303.5" y="70.4" text-anchor="end">100</text>
</g>
<text x="1641" y="937" font-family='"Liberation Sans", sans-serif' font-weight="700" font-size="51.5" textLength="357.6" lengthAdjust="spacing">Grain size(μm)</text>
<text transform="translate(1227.5 682.5) rotate(-90)" font-family='"Liberation Sans", sans-serif' font-weight="700" font-size="51.5" textLength="485" lengthAdjust="spacing">Yield strength(MPa)</text>
<text transform="translate(1344.3 138.8) scale(1.08 1)" font-family='"Liberation Serif", serif' font-weight="700" font-size="80" letter-spacing="0.2">(b)</text>
<g font-family='"Liberation Serif", serif' fill="#000">
<text transform="translate(1686.7 332.5) scale(1.15 0.88)" font-size="54">σ</text>
<text x="1720.7" y="344.7" font-size="42" font-weight="700" letter-spacing="1.5">0.2</text>
<text x="1781.9" y="335.6" font-size="60" font-weight="700">=</text>
<text x="1817.2" y="333.4" font-size="56" font-weight="700">35</text>
<text x="1872.4" y="335.9" font-size="62">+</text>
<text x="1905.2" y="333.4" font-size="56" font-weight="700">153</text>
<text x="1991.8" y="333.4" font-size="56" font-weight="700" font-style="italic">d</text>
<text x="2025.1" y="308.4" font-size="56">(</text>
<text x="2047.4" y="309.1" font-size="60" font-weight="700">−</text>
<text x="2088" y="283.3" font-size="34" font-weight="700">1</text>
<path d="M2086.9 296.1 H2107" stroke="#000" stroke-width="2"/>
<text x="2088.3" y="326.5" font-size="34" font-weight="700">2</text>
<text x="2106.2" y="308.4" font-size="56">)</text>
</g>
</svg></body></html>
